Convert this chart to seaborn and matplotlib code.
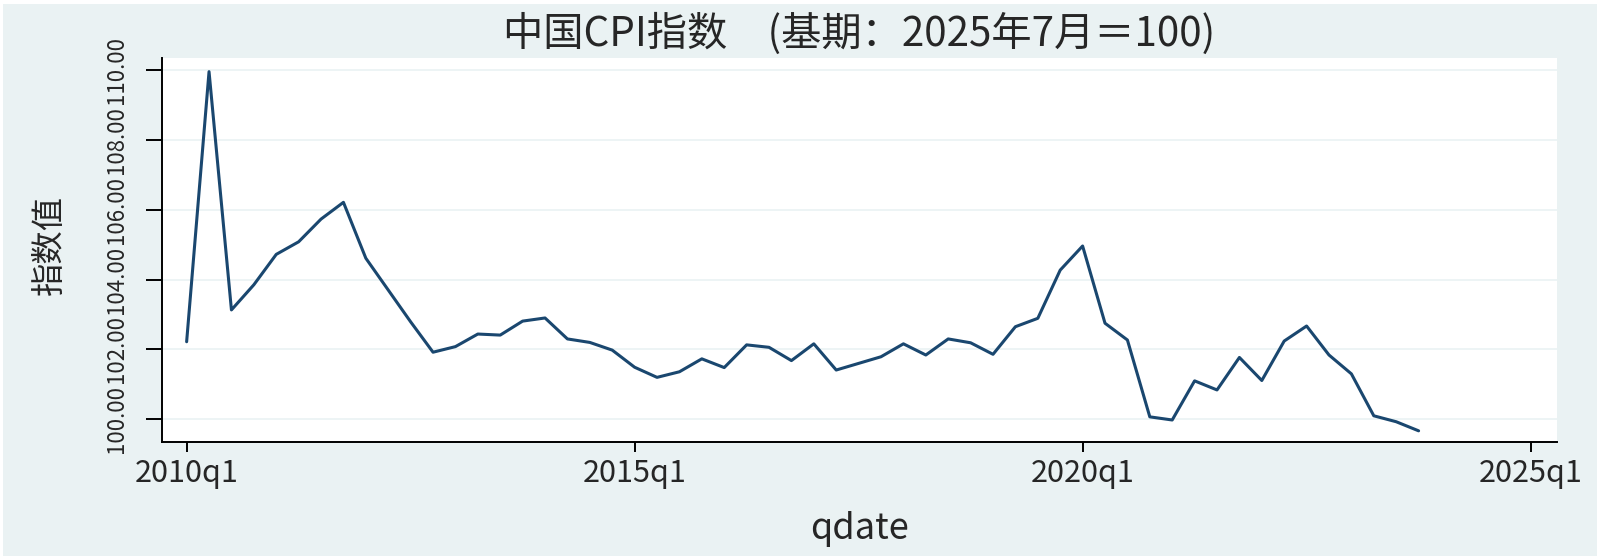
import pandas as pd
import matplotlib
matplotlib.use("Agg")
import matplotlib.pyplot as plt
import seaborn as sns
from matplotlib.patches import Rectangle

# 数据：季度与CPI指数值
quarters = pd.period_range("2010Q1", periods=56, freq="Q")
cpi_values = [
    102.22, 109.95, 103.13, 103.85, 104.72, 105.08, 105.73, 106.21,
    104.61, 103.70, 102.79, 101.92, 102.08, 102.44, 102.41, 102.81,
    102.90, 102.30, 102.20, 101.98, 101.49, 101.20, 101.36, 101.73,
    101.48, 102.13, 102.06, 101.68, 102.16, 101.41, 101.60, 101.79,
    102.16, 101.84, 102.30, 102.19, 101.86, 102.65, 102.89, 104.27,
    104.96, 102.75, 102.27, 100.07, 99.98, 101.10, 100.84, 101.77,
    101.11, 102.24, 102.67, 101.84, 101.30, 100.10, 99.93, 99.67,
]
x_tick_labels = ["2010q1", "2015q1", "2020q1", "2025q1"]
y_ticks = [100, 102, 104, 106, 108, 110]

# 季度序号（以2010q1为0）
base = pd.Period("2010Q1", freq="Q")
df = pd.DataFrame({
    "qdate": [(q - base).n for q in quarters],
    "cpi": cpi_values,
})
tick_pos = [(pd.Period(s.replace("q", "Q"), freq="Q") - base).n for s in x_tick_labels]

sns.set_style("white")
plt.rcParams["font.family"] = ["Noto Sans CJK SC", "DejaVu Sans"]

bg = "#EAF2F3"
fig = plt.figure(figsize=(16, 5.59), dpi=100)
fig.patch.set_facecolor("white")
fig.patches.append(Rectangle((3 / 1600, 3 / 559), 1 - 6 / 1600, 1 - 7 / 559,
                             transform=fig.transFigure, facecolor=bg,
                             edgecolor="none", zorder=-10))

ax = fig.add_axes([0.10125, 0.2093, 0.973 - 0.10125, 0.8962 - 0.2093])
ax.set_facecolor("white")

sns.lineplot(data=df, x="qdate", y="cpi", ax=ax, color="#1A476F", linewidth=2.2)

ax.set_xlim(-1.1, 61.17)
ax.set_ylim(99.35, 110.34)

ax.set_xticks(tick_pos)
ax.set_xticklabels(x_tick_labels, fontsize=22)
ax.set_yticks(y_ticks)
ax.set_yticklabels([f"{v:.2f}" for v in y_ticks], fontsize=16, rotation=90,
                   va="center", ha="center")

ax.tick_params(axis="x", length=7.2, width=1.4, color="black", pad=4, direction="out", bottom=True)
ax.tick_params(axis="y", length=11.5, width=1.4, color="black", pad=21, direction="out", left=True)

ax.yaxis.grid(True, color=bg, linewidth=1.2)
ax.xaxis.grid(False)
ax.set_axisbelow(True)

for side in ["top", "right"]:
    ax.spines[side].set_visible(False)
for side in ["left", "bottom"]:
    ax.spines[side].set_color("black")
    ax.spines[side].set_linewidth(1.4)

ax.set_xlabel("qdate", fontsize=26, labelpad=16)
ax.set_ylabel("指数值", fontsize=24)
ax.yaxis.set_label_coords(-0.068, 0.513)
ax.set_title("中国CPI指数　(基期：2025年7月＝100)", fontsize=29, pad=9)

fig.savefig("out.png", dpi=100, facecolor=fig.get_facecolor())
